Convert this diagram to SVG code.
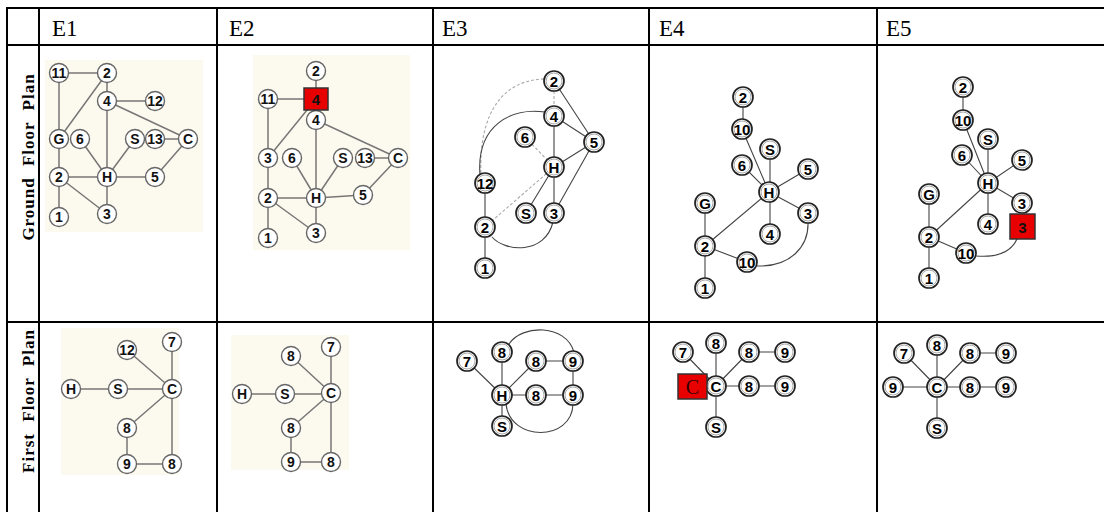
<svg xmlns="http://www.w3.org/2000/svg" width="1104" height="512" viewBox="0 0 1104 512">
<style>
.grid line{stroke:#000;stroke-width:2}
.hdr{font-family:"Liberation Serif","Times New Roman",serif;font-size:23px;fill:#000}
.side{font-family:"Liberation Serif","Times New Roman",serif;font-size:17px;font-weight:bold;fill:#000;text-anchor:middle;letter-spacing:1px;word-spacing:6px}
.bg{fill:#fcfaee}
.ea path{stroke:#777;stroke-width:1.5;fill:none}
.eb path{stroke:#444;stroke-width:1.1;fill:none}
.eb path.f{stroke:#aaa;stroke-dasharray:3 2}
.na circle{fill:#fff;stroke:#666;stroke-width:1.4}
.na text{font-family:"Liberation Sans",Arial,sans-serif;font-size:14px;font-weight:bold;fill:#111;text-anchor:middle;dominant-baseline:central}
.nb circle{fill:#fff;stroke:#222;stroke-width:1.7}
.nb circle.r{fill:none;stroke:#aaa;stroke-width:1}
.nb text{font-family:"Liberation Sans",Arial,sans-serif;font-size:15px;font-weight:bold;fill:#000;text-anchor:middle;dominant-baseline:central}
.sq rect{fill:#e80000;stroke:#333;stroke-width:1.5}
.sq text{font-family:"Liberation Sans",Arial,sans-serif;font-size:15px;font-weight:bold;fill:#111;text-anchor:middle;dominant-baseline:central}
.sq text.s{font-family:"Liberation Serif","Times New Roman",serif;font-weight:normal;font-size:20px;fill:#300}
</style>
<rect width="1104" height="512" fill="#fff"/>
<g id="table" class="grid">
<line x1="6" y1="8" x2="1104" y2="8"/>
<line x1="6" y1="45" x2="1104" y2="45"/>
<line x1="6" y1="322" x2="1104" y2="322"/>
<line x1="7" y1="7" x2="7" y2="512"/>
<line x1="39" y1="7" x2="39" y2="512"/>
<line x1="217" y1="7" x2="217" y2="512"/>
<line x1="433" y1="7" x2="433" y2="512"/>
<line x1="649" y1="7" x2="649" y2="512"/>
<line x1="877" y1="7" x2="877" y2="512"/>
</g>
<g id="headers">
<text class="hdr" x="52" y="36">E1</text>
<text class="hdr" x="229" y="36">E2</text>
<text class="hdr" x="442" y="36">E3</text>
<text class="hdr" x="659" y="36">E4</text>
<text class="hdr" x="886" y="36">E5</text>
<text class="side" transform="translate(34,157) rotate(-90)">Ground Floor Plan</text>
<text class="side" transform="translate(34,401) rotate(-90)">First Floor Plan</text>
</g>
<g id="backgrounds">
<rect class="bg" x="45" y="60" width="158" height="172"/>
<rect class="bg" x="253" y="55" width="157" height="195"/>
<rect class="bg" x="61" y="328" width="118" height="147"/>
<rect class="bg" x="231" y="335" width="118" height="135"/>
</g>
<g id="connectors">
<g class="ea">
<path d="M59,73H107M59,73V139M107,73V101M107,73L59,139M107,101H155M107,101V177M107,101L188,139M155,139H188M135,139L107,177M80,139L107,177M59,139V177M59,177H107M59,177V217M59,177L107,214M107,177V214M107,177H155M155,177L188,139"/>
<path d="M316,71V99M268,99H316M316,99L268,158M268,99V158M316,120V198M316,120L398,158M365,158H398M343,158L316,198M292,158L316,198M268,158V198M268,198H316M268,198V238M268,198L316,233M316,198V233M316,198L363,195M363,195L398,158"/>
<path d="M172,342V389M127,350L172,389M71,389H172M172,389L127,428M172,389V464M127,428V464M127,464H172"/>
<path d="M331,347V393M291,356L331,393M242,394H331M331,393L291,428M331,393V462M291,428V462M291,462H331"/>
</g>
<g class="eb">
<path class="f" d="M554,81V116M525,137L554,167M554,167L485,227"/>
<path class="f" d="M544,79C505,80 478,110 481,176"/>
<path d="M554,81L594,142M554,116L594,142M554,116V213M554,167L594,142M594,142L554,213M554,167L526,213M485,183V268"/>
<path d="M545,112C512,107 476,125 480,175"/>
<path d="M492,237C505,252 545,255 553,222"/>
<path d="M743,97V129M742,129L769,192M770,149V192M742,165L769,192M808,169L769,192M808,213L769,192M770,234V192M705,203V288M705,246L769,192M705,246L747,262"/>
<path d="M757,266C790,267 809,247 808,222"/>
<path d="M963,87V120M963,120L988,183M988,139V183M962,155L988,183M1022,160L988,183M1022,203L988,183M988,224V183M929,194V278M929,237L988,183M929,237L966,253"/>
<path d="M976,256C1000,258 1012,250 1017,239"/>
<path d="M467,361L502,395M502,352V426M536,361L502,395M502,395H573M536,361H573M573,361V395"/>
<path d="M509,344C522,324 566,324 574,352"/>
<path d="M506,404C510,442 572,442 573,404"/>
<path d="M683,352L716,386M716,343V427M749,352L716,386M716,386H785M749,352H785"/>
<path d="M904,353L937,387M937,345V428M970,353L937,387M893,387H1006M970,353H1006"/>
</g>
</g>
<g id="e1-ground" class="na">
<g id="e1g-11"><circle cx="59" cy="73" r="9.5"/><text x="59" y="73">11</text></g>
<g id="e1g-2a"><circle cx="107" cy="73" r="9.5"/><text x="107" y="73">2</text></g>
<g id="e1g-4"><circle cx="107" cy="101" r="9.5"/><text x="107" y="101">4</text></g>
<g id="e1g-12"><circle cx="155" cy="101" r="9.5"/><text x="155" y="101">12</text></g>
<g id="e1g-G"><circle cx="59" cy="139" r="9.5"/><text x="59" y="139">G</text></g>
<g id="e1g-6"><circle cx="80" cy="139" r="9.5"/><text x="80" y="139">6</text></g>
<g id="e1g-S"><circle cx="135" cy="139" r="9.5"/><text x="135" y="139">S</text></g>
<g id="e1g-13"><circle cx="155" cy="139" r="9.5"/><text x="155" y="139">13</text></g>
<g id="e1g-C"><circle cx="188" cy="139" r="9.5"/><text x="188" y="139">C</text></g>
<g id="e1g-2b"><circle cx="59" cy="177" r="9.5"/><text x="59" y="177">2</text></g>
<g id="e1g-H"><circle cx="107" cy="177" r="9.5"/><text x="107" y="177">H</text></g>
<g id="e1g-5"><circle cx="155" cy="177" r="9.5"/><text x="155" y="177">5</text></g>
<g id="e1g-1"><circle cx="59" cy="217" r="9.5"/><text x="59" y="217">1</text></g>
<g id="e1g-3"><circle cx="107" cy="214" r="9.5"/><text x="107" y="214">3</text></g>
</g>
<g id="e2-ground" class="na">
<g id="e2g-2a"><circle cx="316" cy="71" r="9.5"/><text x="316" y="71">2</text></g>
<g id="e2g-11"><circle cx="268" cy="99" r="9.5"/><text x="268" y="99">11</text></g>
<g id="e2g-4"><circle cx="316" cy="120" r="9.5"/><text x="316" y="120">4</text></g>
<g id="e2g-3a"><circle cx="268" cy="158" r="9.5"/><text x="268" y="158">3</text></g>
<g id="e2g-6"><circle cx="292" cy="158" r="9.5"/><text x="292" y="158">6</text></g>
<g id="e2g-S"><circle cx="343" cy="158" r="9.5"/><text x="343" y="158">S</text></g>
<g id="e2g-13"><circle cx="365" cy="158" r="9.5"/><text x="365" y="158">13</text></g>
<g id="e2g-C"><circle cx="398" cy="158" r="9.5"/><text x="398" y="158">C</text></g>
<g id="e2g-2b"><circle cx="268" cy="198" r="9.5"/><text x="268" y="198">2</text></g>
<g id="e2g-H"><circle cx="316" cy="198" r="9.5"/><text x="316" y="198">H</text></g>
<g id="e2g-5"><circle cx="363" cy="195" r="9.5"/><text x="363" y="195">5</text></g>
<g id="e2g-1"><circle cx="268" cy="238" r="9.5"/><text x="268" y="238">1</text></g>
<g id="e2g-3b"><circle cx="316" cy="233" r="9.5"/><text x="316" y="233">3</text></g>
</g>
<g id="e2g-sq4" class="sq"><rect x="304" y="88" width="24" height="22"/><text x="316" y="99.5">4</text></g>
<g id="e3-ground" class="nb">
<g id="e3g-2a"><circle cx="554" cy="81" r="10"/><circle class="r" cx="554" cy="81" r="8"/><text x="554" y="81">2</text></g>
<g id="e3g-4"><circle cx="554" cy="116" r="10"/><circle class="r" cx="554" cy="116" r="8"/><text x="554" y="116">4</text></g>
<g id="e3g-6"><circle cx="525" cy="137" r="10"/><circle class="r" cx="525" cy="137" r="8"/><text x="525" y="137">6</text></g>
<g id="e3g-5"><circle cx="594" cy="142" r="10"/><circle class="r" cx="594" cy="142" r="8"/><text x="594" y="142">5</text></g>
<g id="e3g-H"><circle cx="554" cy="167" r="10"/><circle class="r" cx="554" cy="167" r="8"/><text x="554" y="167">H</text></g>
<g id="e3g-12"><circle cx="485" cy="183" r="10"/><circle class="r" cx="485" cy="183" r="8"/><text x="485" y="183">12</text></g>
<g id="e3g-S"><circle cx="526" cy="213" r="10"/><circle class="r" cx="526" cy="213" r="8"/><text x="526" y="213">S</text></g>
<g id="e3g-3"><circle cx="554" cy="213" r="10"/><circle class="r" cx="554" cy="213" r="8"/><text x="554" y="213">3</text></g>
<g id="e3g-2b"><circle cx="485" cy="227" r="10"/><circle class="r" cx="485" cy="227" r="8"/><text x="485" y="227">2</text></g>
<g id="e3g-1"><circle cx="485" cy="268" r="10"/><circle class="r" cx="485" cy="268" r="8"/><text x="485" y="268">1</text></g>
</g>
<g id="e4-ground" class="nb">
<g id="e4g-2a"><circle cx="743" cy="97" r="10"/><circle class="r" cx="743" cy="97" r="8"/><text x="743" y="97">2</text></g>
<g id="e4g-10a"><circle cx="742" cy="129" r="10"/><circle class="r" cx="742" cy="129" r="8"/><text x="742" y="129">10</text></g>
<g id="e4g-S"><circle cx="770" cy="149" r="10"/><circle class="r" cx="770" cy="149" r="8"/><text x="770" y="149">S</text></g>
<g id="e4g-6"><circle cx="742" cy="165" r="10"/><circle class="r" cx="742" cy="165" r="8"/><text x="742" y="165">6</text></g>
<g id="e4g-5"><circle cx="808" cy="169" r="10"/><circle class="r" cx="808" cy="169" r="8"/><text x="808" y="169">5</text></g>
<g id="e4g-H"><circle cx="769" cy="192" r="10"/><circle class="r" cx="769" cy="192" r="8"/><text x="769" y="192">H</text></g>
<g id="e4g-G"><circle cx="705" cy="203" r="10"/><circle class="r" cx="705" cy="203" r="8"/><text x="705" y="203">G</text></g>
<g id="e4g-3"><circle cx="808" cy="213" r="10"/><circle class="r" cx="808" cy="213" r="8"/><text x="808" y="213">3</text></g>
<g id="e4g-4"><circle cx="770" cy="234" r="10"/><circle class="r" cx="770" cy="234" r="8"/><text x="770" y="234">4</text></g>
<g id="e4g-2b"><circle cx="705" cy="246" r="10"/><circle class="r" cx="705" cy="246" r="8"/><text x="705" y="246">2</text></g>
<g id="e4g-10b"><circle cx="747" cy="262" r="10"/><circle class="r" cx="747" cy="262" r="8"/><text x="747" y="262">10</text></g>
<g id="e4g-1"><circle cx="705" cy="288" r="10"/><circle class="r" cx="705" cy="288" r="8"/><text x="705" y="288">1</text></g>
</g>
<g id="e5-ground" class="nb">
<g id="e5g-2a"><circle cx="963" cy="87" r="10"/><circle class="r" cx="963" cy="87" r="8"/><text x="963" y="87">2</text></g>
<g id="e5g-10a"><circle cx="963" cy="120" r="10"/><circle class="r" cx="963" cy="120" r="8"/><text x="963" y="120">10</text></g>
<g id="e5g-S"><circle cx="988" cy="139" r="10"/><circle class="r" cx="988" cy="139" r="8"/><text x="988" y="139">S</text></g>
<g id="e5g-6"><circle cx="962" cy="155" r="10"/><circle class="r" cx="962" cy="155" r="8"/><text x="962" y="155">6</text></g>
<g id="e5g-5"><circle cx="1022" cy="160" r="10"/><circle class="r" cx="1022" cy="160" r="8"/><text x="1022" y="160">5</text></g>
<g id="e5g-H"><circle cx="988" cy="183" r="10"/><circle class="r" cx="988" cy="183" r="8"/><text x="988" y="183">H</text></g>
<g id="e5g-G"><circle cx="929" cy="194" r="10"/><circle class="r" cx="929" cy="194" r="8"/><text x="929" y="194">G</text></g>
<g id="e5g-3"><circle cx="1022" cy="203" r="10"/><circle class="r" cx="1022" cy="203" r="8"/><text x="1022" y="203">3</text></g>
<g id="e5g-4"><circle cx="988" cy="224" r="10"/><circle class="r" cx="988" cy="224" r="8"/><text x="988" y="224">4</text></g>
<g id="e5g-2b"><circle cx="929" cy="237" r="10"/><circle class="r" cx="929" cy="237" r="8"/><text x="929" y="237">2</text></g>
<g id="e5g-10b"><circle cx="966" cy="253" r="10"/><circle class="r" cx="966" cy="253" r="8"/><text x="966" y="253">10</text></g>
<g id="e5g-1"><circle cx="929" cy="278" r="10"/><circle class="r" cx="929" cy="278" r="8"/><text x="929" y="278">1</text></g>
</g>
<g id="e5g-sq3" class="sq"><rect x="1010" y="214" width="25" height="25"/><text x="1022.5" y="227">3</text></g>
<g id="e1-first" class="na">
<g id="e1f-7"><circle cx="172" cy="342" r="9.5"/><text x="172" y="342">7</text></g>
<g id="e1f-12"><circle cx="127" cy="350" r="9.5"/><text x="127" y="350">12</text></g>
<g id="e1f-H"><circle cx="71" cy="389" r="9.5"/><text x="71" y="389">H</text></g>
<g id="e1f-S"><circle cx="118" cy="389" r="9.5"/><text x="118" y="389">S</text></g>
<g id="e1f-C"><circle cx="172" cy="389" r="9.5"/><text x="172" y="389">C</text></g>
<g id="e1f-8a"><circle cx="127" cy="428" r="9.5"/><text x="127" y="428">8</text></g>
<g id="e1f-9"><circle cx="127" cy="464" r="9.5"/><text x="127" y="464">9</text></g>
<g id="e1f-8b"><circle cx="172" cy="464" r="9.5"/><text x="172" y="464">8</text></g>
</g>
<g id="e2-first" class="na">
<g id="e2f-7"><circle cx="331" cy="347" r="9.5"/><text x="331" y="347">7</text></g>
<g id="e2f-8t"><circle cx="291" cy="356" r="9.5"/><text x="291" y="356">8</text></g>
<g id="e2f-H"><circle cx="242" cy="394" r="9.5"/><text x="242" y="394">H</text></g>
<g id="e2f-S"><circle cx="285" cy="394" r="9.5"/><text x="285" y="394">S</text></g>
<g id="e2f-C"><circle cx="331" cy="393" r="9.5"/><text x="331" y="393">C</text></g>
<g id="e2f-8m"><circle cx="291" cy="428" r="9.5"/><text x="291" y="428">8</text></g>
<g id="e2f-9"><circle cx="291" cy="462" r="9.5"/><text x="291" y="462">9</text></g>
<g id="e2f-8b"><circle cx="331" cy="462" r="9.5"/><text x="331" y="462">8</text></g>
</g>
<g id="e3-first" class="nb">
<g id="e3f-7"><circle cx="467" cy="361" r="10"/><circle class="r" cx="467" cy="361" r="8"/><text x="467" y="361">7</text></g>
<g id="e3f-8t"><circle cx="502" cy="352" r="10"/><circle class="r" cx="502" cy="352" r="8"/><text x="502" y="352">8</text></g>
<g id="e3f-8m"><circle cx="536" cy="361" r="10"/><circle class="r" cx="536" cy="361" r="8"/><text x="536" y="361">8</text></g>
<g id="e3f-9t"><circle cx="573" cy="361" r="10"/><circle class="r" cx="573" cy="361" r="8"/><text x="573" y="361">9</text></g>
<g id="e3f-H"><circle cx="502" cy="395" r="10"/><circle class="r" cx="502" cy="395" r="8"/><text x="502" y="395">H</text></g>
<g id="e3f-8"><circle cx="536" cy="395" r="10"/><circle class="r" cx="536" cy="395" r="8"/><text x="536" y="395">8</text></g>
<g id="e3f-9"><circle cx="573" cy="395" r="10"/><circle class="r" cx="573" cy="395" r="8"/><text x="573" y="395">9</text></g>
<g id="e3f-S"><circle cx="502" cy="426" r="10"/><circle class="r" cx="502" cy="426" r="8"/><text x="502" y="426">S</text></g>
</g>
<g id="e4-first" class="nb">
<g id="e4f-7"><circle cx="683" cy="352" r="10"/><circle class="r" cx="683" cy="352" r="8"/><text x="683" y="352">7</text></g>
<g id="e4f-8t"><circle cx="716" cy="343" r="10"/><circle class="r" cx="716" cy="343" r="8"/><text x="716" y="343">8</text></g>
<g id="e4f-8m"><circle cx="749" cy="352" r="10"/><circle class="r" cx="749" cy="352" r="8"/><text x="749" y="352">8</text></g>
<g id="e4f-9t"><circle cx="785" cy="352" r="10"/><circle class="r" cx="785" cy="352" r="8"/><text x="785" y="352">9</text></g>
<g id="e4f-C"><circle cx="716" cy="386" r="10"/><circle class="r" cx="716" cy="386" r="8"/><text x="716" y="386">C</text></g>
<g id="e4f-8"><circle cx="749" cy="386" r="10"/><circle class="r" cx="749" cy="386" r="8"/><text x="749" y="386">8</text></g>
<g id="e4f-9"><circle cx="785" cy="386" r="10"/><circle class="r" cx="785" cy="386" r="8"/><text x="785" y="386">9</text></g>
<g id="e4f-S"><circle cx="716" cy="427" r="10"/><circle class="r" cx="716" cy="427" r="8"/><text x="716" y="427">S</text></g>
</g>
<g id="e4f-sqC" class="sq"><rect x="678" y="374" width="29" height="25"/><text class="s" x="692.5" y="387">C</text></g>
<g id="e5-first" class="nb">
<g id="e5f-7"><circle cx="904" cy="353" r="10"/><circle class="r" cx="904" cy="353" r="8"/><text x="904" y="353">7</text></g>
<g id="e5f-8t"><circle cx="937" cy="345" r="10"/><circle class="r" cx="937" cy="345" r="8"/><text x="937" y="345">8</text></g>
<g id="e5f-8m"><circle cx="970" cy="353" r="10"/><circle class="r" cx="970" cy="353" r="8"/><text x="970" y="353">8</text></g>
<g id="e5f-9t"><circle cx="1006" cy="353" r="10"/><circle class="r" cx="1006" cy="353" r="8"/><text x="1006" y="353">9</text></g>
<g id="e5f-9l"><circle cx="893" cy="387" r="10"/><circle class="r" cx="893" cy="387" r="8"/><text x="893" y="387">9</text></g>
<g id="e5f-C"><circle cx="937" cy="387" r="10"/><circle class="r" cx="937" cy="387" r="8"/><text x="937" y="387">C</text></g>
<g id="e5f-8"><circle cx="970" cy="387" r="10"/><circle class="r" cx="970" cy="387" r="8"/><text x="970" y="387">8</text></g>
<g id="e5f-9"><circle cx="1006" cy="387" r="10"/><circle class="r" cx="1006" cy="387" r="8"/><text x="1006" y="387">9</text></g>
<g id="e5f-S"><circle cx="937" cy="428" r="10"/><circle class="r" cx="937" cy="428" r="8"/><text x="937" y="428">S</text></g>
</g>
</svg>
